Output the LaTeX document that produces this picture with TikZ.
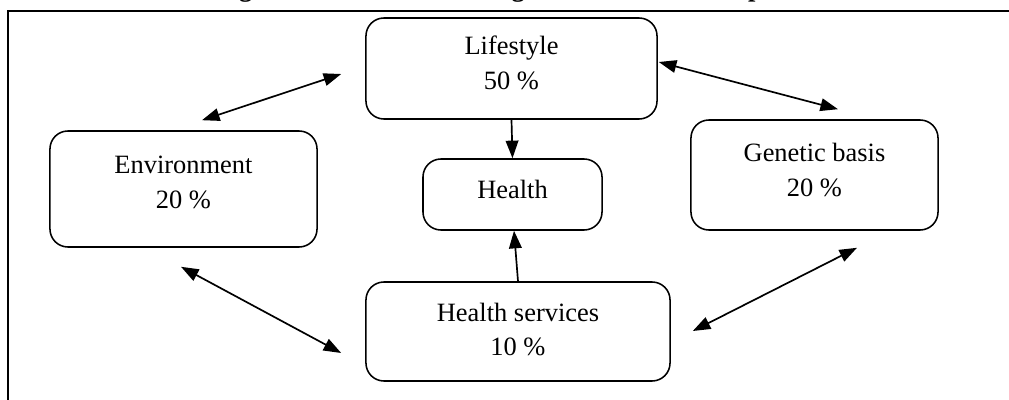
\documentclass[tikz,border=0pt]{standalone}
\usepackage{fontspec}
\setmainfont{Liberation Serif}
\usetikzlibrary{arrows.meta,calc}

\begin{document}
\begin{tikzpicture}[x=0.025cm, y=-0.025cm, >={Triangle[length=12.5pt,width=9pt]},
  font=\fontsize{18.8pt}{24.8pt}\selectfont]
	\tikzstyle{factor} = [draw, line width=1.1pt, rounded corners=0.45cm, align=center, inner sep=0pt, text depth=8pt]
	\tikzstyle{link} = [line width=1.2pt]
	\useasboundingbox (0,0) rectangle (1009,400);
	% frame and (cut) caption
	\draw[line width=1.5pt] (8,11) rectangle (1030,420);
	\node[anchor=base, font=\fontsize{18.8pt}{24.8pt}\selectfont\bfseries] (title) at (498,-3.5)
	  {Diagram 1. Factors affecting health and their impact};
	% factors
	\node[factor, minimum width=7.275cm, minimum height=2.525cm] (life) at (511.5,68.5) {Lifestyle\\50 \%};
	\node[factor, minimum width=6.675cm, minimum height=2.9cm, text depth=10pt] (env) at (183.5,189) {Environment\\20 \%};
	\node[factor, minimum width=6.175cm, minimum height=2.75cm, text depth=7pt] (gen) at (814.5,175) {Genetic basis\\20 \%};
	\node[factor, minimum width=4.475cm, minimum height=1.775cm] (health) at (512.5,194.5) {Health};
	\node[factor, minimum width=7.6cm, minimum height=2.475cm, text depth=3pt] (serv) at (518,331.5) {Health services\\10 \%};
	% links
	\draw[link, <->] ($(env.north)+(18.5,-10)$) -- ($(life.west)+(-24,5.5)$);
	\draw[link, <->] ($(life.east)+(1,-6.5)$) -- ($(gen.north)+(23.5,-10)$);
	\draw[link, <->] ($(env.south)+(-2.5,19)$) -- ($(serv.west)+(-24,21.5)$);
	\draw[link, <->] ($(gen.south)+(42.5,17)$) -- ($(serv.east)+(22,-0.5)$);
	\draw[link, ->] (life.south) -- (health.north);
	\draw[link, ->] (serv.north) -- ($(health.south)+(1.5,0)$);
\end{tikzpicture}
\end{document}
